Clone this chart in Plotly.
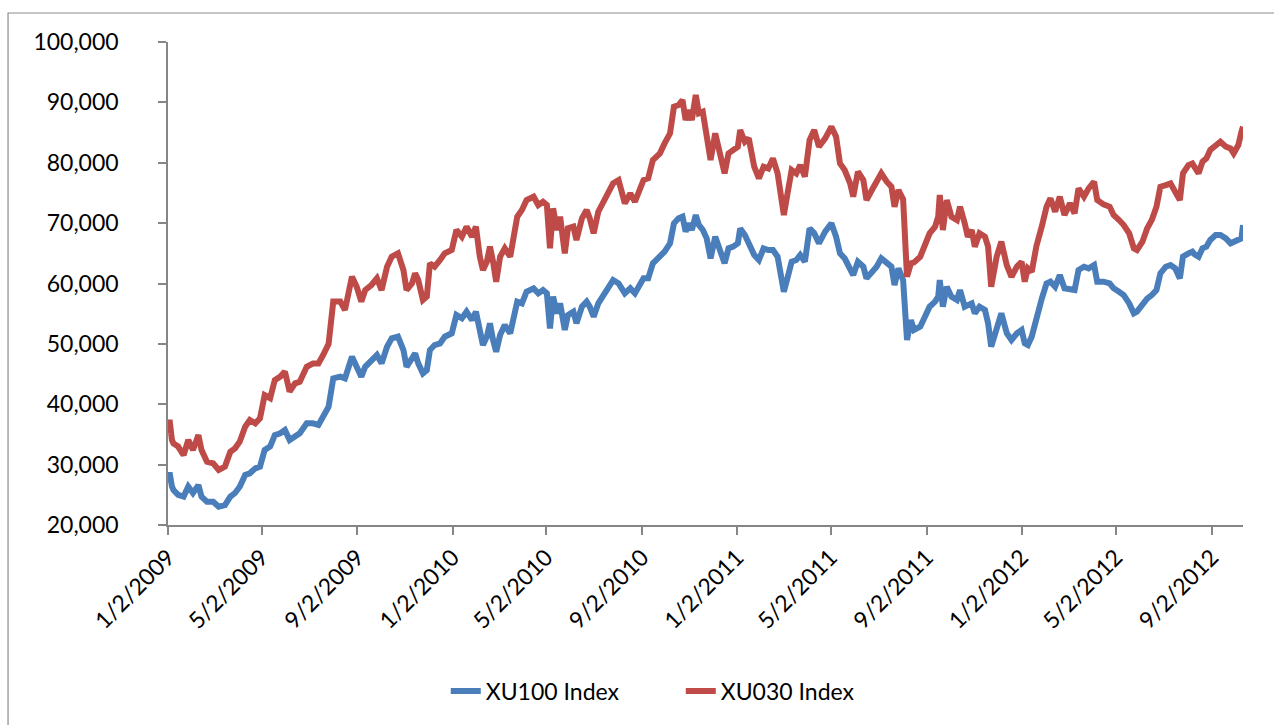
import pandas as pd
import plotly.graph_objects as go

# Days elapsed since 1/2/2009 for each sampled observation
day_offset = [0, 2, 5, 7, 13, 20, 26, 32, 39, 43, 50, 58, 65, 73, 80, 86, 92, 99, 105, 112,
              118, 124, 131, 137, 144, 150, 156, 163, 169, 178, 186, 193, 199, 206, 212, 221,
              227, 236, 242, 248, 253, 261, 268, 274, 281, 287, 295, 302, 306, 313, 317, 321,
              327, 332, 336, 342, 349, 355, 364, 370, 377, 383, 390, 395, 400, 404, 409, 413,
              417, 421, 426, 432, 439, 443, 448, 454, 460, 469, 475, 481, 486, 490, 494, 499,
              503, 509, 513, 520, 524, 531, 537, 541, 546, 552, 558, 571, 578, 586, 593, 599,
              610, 616, 622, 631, 637, 644, 649, 655, 660, 664, 668, 672, 677, 681, 686, 691,
              696, 702, 706, 709, 714, 719, 725, 731, 734, 740, 745, 752, 758, 764, 770, 776,
              782, 786, 790, 794, 800, 806, 811, 817, 823, 829, 835, 843, 851, 857, 862, 868,
              875, 879, 885, 892, 896, 903, 909, 915, 922, 928, 932, 937, 943, 948, 953, 957,
              965, 971, 977, 984, 988, 990, 994, 999, 1005, 1012, 1016, 1022, 1026, 1031, 1035,
              1041, 1048, 1052, 1056, 1063, 1069, 1076, 1082, 1089, 1095, 1099, 1103, 1108,
              1114, 1121, 1127, 1132, 1138, 1144, 1150, 1157, 1163, 1168, 1175, 1181, 1188,
              1192, 1200, 1208, 1213, 1220, 1226, 1233, 1239, 1243, 1250, 1256, 1262, 1268,
              1273, 1280, 1286, 1292, 1298, 1302, 1309, 1314, 1317, 1322, 1327, 1332, 1337,
              1344, 1350, 1357, 1363, 1367, 1373, 1377, 1379]

xu100 = [27000, 28700, 26400, 25800, 25000, 24700, 26350, 25300, 26600, 24700, 23860, 23860,
         23030, 23300, 24700, 25300, 26350, 28280, 28560, 29390, 29670, 32420, 33000, 34900,
         35200, 35730, 34080, 34630, 35200, 36840, 36840, 36560, 37940, 39600, 44290, 44570,
         44290, 47870, 46210, 44570, 46210, 47330, 48150, 46770, 49530, 50920, 51200, 48980,
         46210, 47600, 48430, 46770, 45120, 45660, 48980, 49810, 50080, 51190, 51750, 54780,
         54230, 55330, 53950, 55330, 52300, 49810, 51190, 53400, 50640, 48700, 51470, 53120,
         51750, 53950, 56990, 56710, 58640, 59200, 58370, 58920, 58370, 52570, 57820, 55060,
         56710, 52300, 54780, 55330, 53400, 56160, 56990, 56160, 54500, 56710, 58090, 60570,
         60020, 58370, 59200, 58370, 60850, 60850, 63340, 64440, 65270, 66650, 69970, 70800,
         71060, 68580, 69970, 68860, 71340, 69690, 68900, 67480, 64170, 67750, 66100, 65000,
         63340, 65820, 66100, 66650, 69130, 68030, 66650, 64720, 63890, 65820, 65550, 65550,
         64440, 60850, 58640, 60570, 63610, 63890, 64720, 63610, 69130, 68310, 66650, 68580,
         69970, 67750, 64990, 64170, 62510, 61400, 63610, 62780, 60850, 61950, 62780, 64170,
         63340, 62780, 59750, 62510, 60570, 50640, 53950, 52300, 52850, 54500, 56160, 56990,
         57820, 60570, 56160, 59470, 57820, 57270, 58920, 56160, 56500, 56710, 55060, 56160,
         55610, 53400, 49530, 52300, 55060, 51750, 50640, 51750, 52300, 50090, 49810, 51200,
         54500, 57550, 60020, 60300, 59470, 61400, 59200, 58920, 58920, 62230, 62780, 62510,
         63060, 60300, 60300, 60020, 59200, 58640, 58090, 56710, 55060, 55330, 56710, 57500,
         58090, 58920, 61680, 62780, 63060, 62510, 60850, 64440, 64990, 65270, 64800, 64440,
         65820, 66100, 67200, 68030, 68030, 67480, 66650, 66900, 67200, 67480, 69690]

xu030 = [35200, 37400, 34100, 33500, 33000, 31590, 34080, 32420, 34900, 32420, 30490, 30210,
         29110, 29670, 32140, 32700, 33800, 36280, 37390, 36840, 37670, 41500, 41000, 44000,
         44570, 45400, 42080, 43460, 43730, 46210, 46770, 46770, 48150, 50000, 57000, 57000,
         55610, 61120, 59470, 57000, 58920, 59750, 60850, 58920, 62780, 64440, 65000, 62230,
         58920, 60020, 61680, 60570, 57270, 57830, 63340, 62780, 63890, 64990, 65550, 68860,
         67750, 69410, 67750, 69410, 64440, 62230, 63610, 66100, 63610, 60300, 64440, 65820,
         64440, 67480, 71060, 72170, 73820, 74380, 72990, 73540, 72990, 65820, 72440, 68860,
         71060, 64990, 69130, 69410, 67200, 70790, 72170, 70790, 68310, 71890, 73540, 76590,
         77140, 73270, 74930, 73540, 77140, 77420, 80450, 81550, 83210, 84870, 89280, 89560,
         90390, 87070, 88730, 87070, 91220, 88180, 88450, 83760, 80450, 84870, 82660, 80450,
         78240, 81550, 82110, 82660, 85420, 83480, 84040, 79340, 77420, 79340, 79060, 80720,
         78240, 74930, 71340, 74380, 78790, 78240, 79620, 77690, 83760, 85420, 82660, 84040,
         85970, 84320, 79890, 78790, 76590, 74380, 78510, 77140, 73820, 75480, 77140, 78240,
         76860, 76030, 72710, 75480, 73930, 61120, 63340, 63500, 64440, 66100, 68310, 69410,
         71060, 74660, 68860, 73820, 71060, 70500, 72710, 70000, 67750, 68860, 66100, 68310,
         67750, 66100, 59470, 64440, 66930, 63000, 61120, 62800, 63610, 60300, 62510, 61950,
         66200, 69500, 72710, 74100, 71890, 74380, 71340, 73270, 71610, 75760, 74380, 75760,
         76860, 73820, 73100, 72710, 71340, 70510, 69690, 68310, 65820, 65550, 66930, 69130,
         70510, 72710, 76030, 76310, 76590, 75210, 73820, 78240, 79620, 79890, 79060, 78240,
         80170, 80720, 82110, 82930, 83480, 82660, 82380, 81550, 82930, 85140, 85970]

tick_dates = ["2009-01-02", "2009-05-02", "2009-09-02", "2010-01-02", "2010-05-02",
              "2010-09-02", "2011-01-02", "2011-05-02", "2011-09-02", "2012-01-02",
              "2012-05-02", "2012-09-02"]
tick_labels = ["1/2/2009", "5/2/2009", "9/2/2009", "1/2/2010", "5/2/2010", "9/2/2010",
               "1/2/2011", "5/2/2011", "9/2/2011", "1/2/2012", "5/2/2012", "9/2/2012"]
series_names = ["XU100 Index", "XU030 Index"]

start = pd.Timestamp("2009-01-02")
dates = start + pd.to_timedelta(day_offset, unit="D")

FONT = "Lato, 'Open Sans', sans-serif"
AXIS_COLOR = "#868686"

fig = go.Figure()
fig.add_trace(go.Scatter(x=dates, y=xu100, mode="lines", name=series_names[0],
                         line=dict(color="#4A7EBB", width=6)))
fig.add_trace(go.Scatter(x=dates, y=xu030, mode="lines", name=series_names[1],
                         line=dict(color="#BE4B48", width=6)))

fig.update_layout(
    width=1274, height=725,
    margin=dict(l=168, r=31, t=42, b=200),
    paper_bgcolor="white", plot_bgcolor="white",
    font=dict(family=FONT, size=23, color="black"),
    showlegend=True,
    legend=dict(orientation="h", x=0.477, xanchor="center", y=-0.344, yanchor="middle",
                font=dict(size=23), entrywidth=190),
    xaxis=dict(
        type="date",
        range=[start, start + pd.Timedelta(days=1379)],
        tickvals=tick_dates, ticktext=tick_labels, tickangle=-45,
        showgrid=False, zeroline=False,
        showline=True, linecolor=AXIS_COLOR, linewidth=1.5,
        ticks="outside", ticklen=8, tickcolor=AXIS_COLOR, tickwidth=1.5,
    ),
    yaxis=dict(
        range=[20000, 100000], dtick=10000, tick0=20000, tickformat=",",
        showgrid=False, zeroline=False,
        showline=True, linecolor=AXIS_COLOR, linewidth=1.5,
        ticks="outside", ticklen=8, tickcolor=AXIS_COLOR, tickwidth=1.5,
        ticklabelstandoff=35,
    ),
    shapes=[dict(type="rect", xref="paper", yref="paper",
                 x0=-0.1488, x1=1.04, y0=-0.45, y1=1.06,
                 line=dict(color="#8C8C8C", width=1.2), fillcolor="rgba(0,0,0,0)",
                 layer="below")],
)

fig.write_html("out.html", config={"displayModeBar": False},
               post_script="document.body.style.margin='0';document.body.style.overflow='hidden';")
